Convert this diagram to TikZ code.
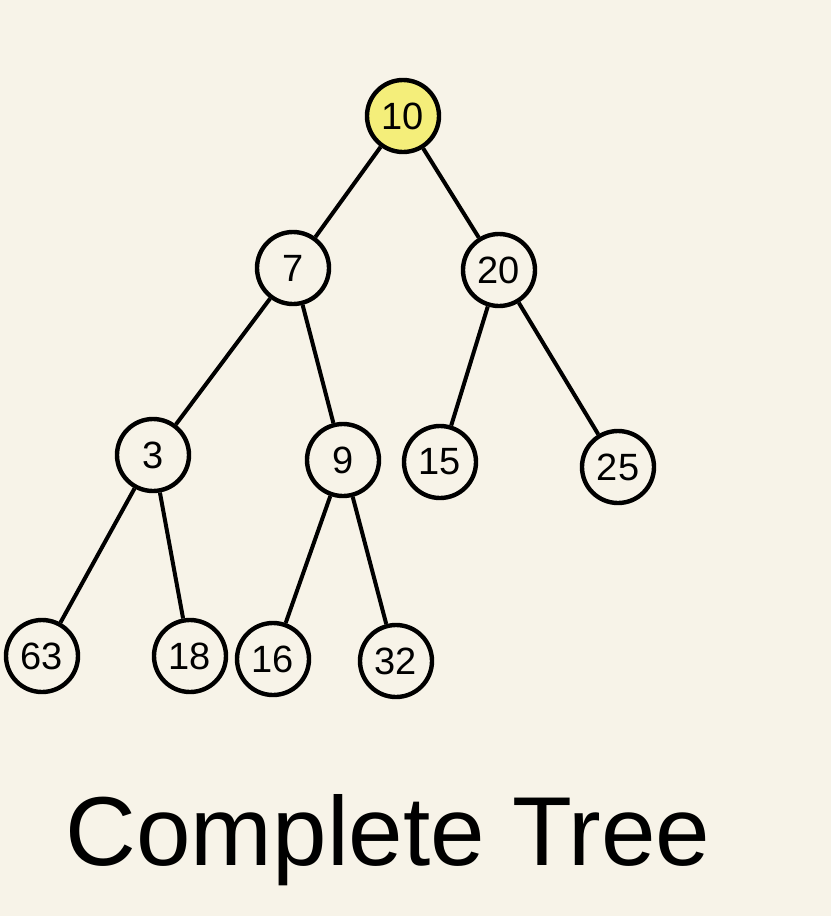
\documentclass[tikz,border=0pt]{standalone}
\usepackage{fontspec}
\setmainfont{Liberation Sans}
\usepackage{xcolor}
\definecolor{paper}{RGB}{247,243,232}
\definecolor{rootfill}{RGB}{244,238,122}

\begin{document}
\begin{tikzpicture}[x=1pt, y=-1pt,
  key/.style = {shape=circle, draw, line width=4.4pt,
    minimum size=72pt, inner sep=0pt, fill=paper,
    font=\fontsize{38}{38}\selectfont},
  root/.style = {key, fill=rootfill},
  link/.style = {draw, line width=4pt}
  ]
  \fill[paper] (0,0) rectangle (831,916);
  \useasboundingbox (0,0) rectangle (831,916);
  % nodes
  \node[root] (n10) at (403,116) {10};
  \node[key] (n7) at (293,268) {7};
  \node[key] (n20) at (499,270) {20};
  \node[key] (n3) at (153,455) {3};
  \node[key] (n9) at (343,460) {9};
  \node[key] (n15) at (440,462) {15};
  \node[key] (n25) at (618,467) {25};
  \node[key] (n63) at (42,656) {63};
  \node[key] (n18) at (190,656) {18};
  \node[key] (n16) at (273,659) {16};
  \node[key] (n32) at (396,661) {32};
  % edges
  \draw[link] (n10) -- (n7);
  \draw[link] (n10) -- (n20);
  \draw[link] (n7) -- (n3);
  \draw[link] (n7) -- (n9);
  \draw[link] (n20) -- (n15);
  \draw[link] (n20) -- (n25);
  \draw[link] (n3) -- (n63);
  \draw[link] (n3) -- (n18);
  \draw[link] (n9) -- (n16);
  \draw[link] (n9) -- (n32);
  % caption
  \node[font=\fontsize{98}{98}\selectfont, inner sep=0pt, anchor=base]
    (caption) at (388,865) {Complete Tree};
\end{tikzpicture}
\end{document}
